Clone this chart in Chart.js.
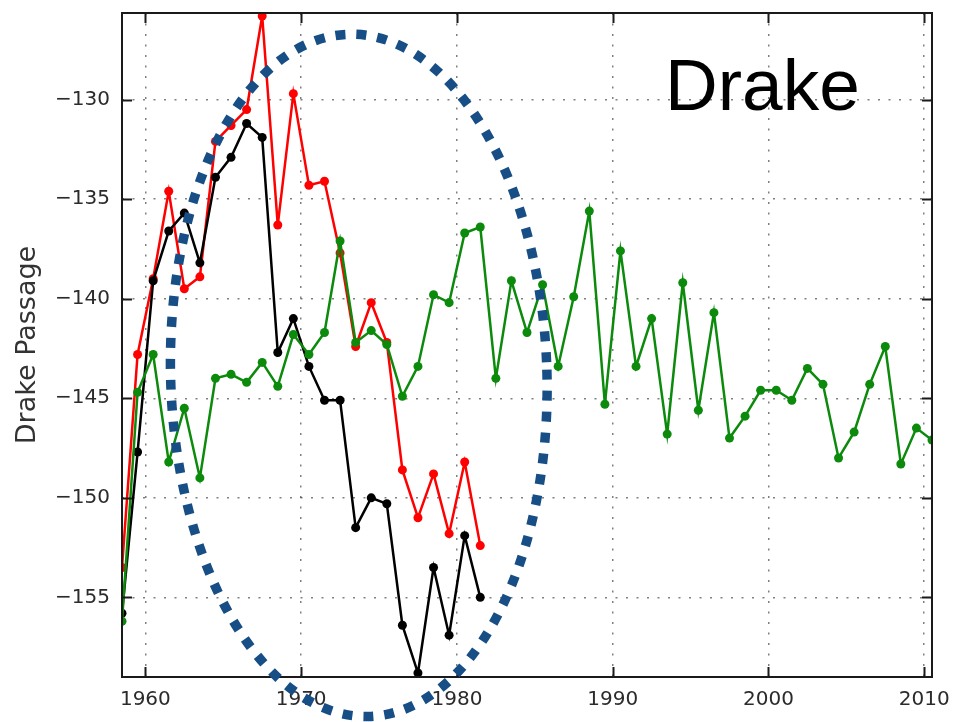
<!DOCTYPE html>
<html>
<head>
<meta charset="utf-8">
<script src="https://cdn.jsdelivr.net/npm/chart.js@4.4.1/dist/chart.umd.min.js"></script>
<style>
  html, body { margin: 0; padding: 0; background: #fff; }
  canvas { display: block; }
</style>
</head>
<body>
<canvas id="c" width="954" height="722"></canvas>
<script>
// Annual transport values (mid-year samples)
const years = [
  1958.5, 1959.5, 1960.5, 1961.5, 1962.5, 1963.5, 1964.5, 1965.5, 1966.5, 1967.5,
  1968.5, 1969.5, 1970.5, 1971.5, 1972.5, 1973.5, 1974.5, 1975.5, 1976.5, 1977.5,
  1978.5, 1979.5, 1980.5, 1981.5, 1982.5, 1983.5, 1984.5, 1985.5, 1986.5, 1987.5,
  1988.5, 1989.5, 1990.5, 1991.5, 1992.5, 1993.5, 1994.5, 1995.5, 1996.5, 1997.5,
  1998.5, 1999.5, 2000.5, 2001.5, 2002.5, 2003.5, 2004.5, 2005.5, 2006.5, 2007.5,
  2008.5, 2009.5, 2010.5
];

const redSeries = [
  -153.5, -142.8, -139.0, -134.6, -139.5, -138.9, -132.1, -131.3, -130.5, -125.8,
  -136.3, -129.7, -134.3, -134.1, -137.7, -142.4, -140.2, -142.2, -148.6, -151.0,
  -148.8, -151.8, -148.2, -152.4
];

const blackSeries = [
  -155.8, -147.7, -139.1, -136.6, -135.7, -138.2, -133.9, -132.9, -131.2, -131.9,
  -142.7, -141.0, -143.4, -145.1, -145.1, -151.5, -150.0, -150.3, -156.4, -158.8,
  -153.5, -156.9, -151.9, -155.0
];

const greenSeries = [
  -156.2, -144.7, -142.8, -148.2, -145.5, -149.0, -144.0, -143.8, -144.2, -143.2,
  -144.4, -141.8, -142.8, -141.7, -137.1, -142.2, -141.6, -142.3, -144.9, -143.4,
  -139.8, -140.2, -136.7, -136.4, -144.0, -139.1, -141.7, -139.3, -143.4, -139.9,
  -135.6, -145.3, -137.6, -143.4, -141.0, -146.8, -139.2, -145.6, -140.7, -147.0,
  -145.9, -144.6, -144.6, -145.1, -143.5, -144.3, -148.0, -146.7, -144.3, -142.4,
  -148.3, -146.5, -147.1
];

const xTicks = [1960, 1970, 1980, 1990, 2000, 2010];
const yTicks = [-155, -150, -145, -140, -135, -130];

const xRange = [1958.5, 2010.5];
const yRange = [-159.0, -125.65];

// Highlight ring around the early record, in data units
const ring = { year: 1973.7, value: -143.85, halfYears: 12.08, halfValue: 17.14, tilt: -0.03 };

const pairs = (vals) => vals.map((v, i) => ({ x: years[i], y: v }));

const lineStyle = (color) => ({
  borderColor: color,
  backgroundColor: color,
  pointBackgroundColor: color,
  pointBorderColor: color,
  borderWidth: 2.5,
  pointRadius: 4.5,
  pointBorderWidth: 0,
  pointHoverRadius: 4.5,
  tension: 0,
  fill: false
});

const TICK_LEN = 10;

// Box frame with inward tick marks on all four sides
const framePlugin = {
  id: 'frame',
  afterDatasetsDraw(chart) {
    const { ctx, chartArea: a, scales: { x, y } } = chart;
    ctx.save();
    ctx.strokeStyle = '#1a1a1a';
    ctx.lineWidth = 2;
    ctx.beginPath();
    x.ticks.forEach(t => {
      const px = Math.round(x.getPixelForValue(t.value)) + 0.5;
      ctx.moveTo(px, a.bottom); ctx.lineTo(px, a.bottom - TICK_LEN);
      ctx.moveTo(px, a.top); ctx.lineTo(px, a.top + TICK_LEN);
    });
    y.ticks.forEach(t => {
      const py = Math.round(y.getPixelForValue(t.value)) + 0.5;
      ctx.moveTo(a.left, py); ctx.lineTo(a.left + TICK_LEN, py);
      ctx.moveTo(a.right, py); ctx.lineTo(a.right - TICK_LEN, py);
    });
    ctx.stroke();
    ctx.strokeRect(a.left, a.top, a.right - a.left, a.bottom - a.top);
    ctx.restore();
  }
};

// Region name and dotted highlight ring
const notePlugin = {
  id: 'notes',
  afterDraw(chart) {
    const { ctx, chartArea: a, scales: { x, y } } = chart;
    ctx.save();
    ctx.fillStyle = '#000';
    ctx.font = '73px "Liberation Sans", Arial, sans-serif';
    ctx.textBaseline = 'alphabetic';
    ctx.textAlign = 'left';
    ctx.fillText('Drake', a.right - 267, a.top + 96.5);

    const cx = x.getPixelForValue(ring.year);
    const cy = y.getPixelForValue(ring.value);
    const rx = Math.abs(x.getPixelForValue(ring.year + ring.halfYears) - cx);
    const ry = Math.abs(y.getPixelForValue(ring.value + ring.halfValue) - cy);
    ctx.strokeStyle = '#174e86';
    ctx.lineWidth = 9.5;
    ctx.lineCap = 'butt';
    ctx.setLineDash([10, 11]);
    ctx.beginPath();
    ctx.ellipse(cx, cy, rx, ry, ring.tilt, 0, Math.PI * 2);
    ctx.stroke();
    ctx.restore();
  }
};

const tickFont = { family: '"DejaVu Sans", sans-serif', size: 20 };

new Chart(document.getElementById('c'), {
  type: 'line',
  data: {
    datasets: [
      Object.assign({ label: 'green', data: pairs(greenSeries) }, lineStyle('#0b8a0b')),
      Object.assign({ label: 'black', data: pairs(blackSeries) }, lineStyle('#000000')),
      Object.assign({ label: 'red', data: pairs(redSeries) }, lineStyle('#ff0000'))
    ]
  },
  options: {
    responsive: false,
    animation: false,
    devicePixelRatio: 1,
    layout: { padding: { left: 0, top: 13, right: 22, bottom: 0 } },
    plugins: { legend: { display: false }, tooltip: { enabled: false } },
    scales: {
      x: {
        type: 'linear',
        min: xRange[0],
        max: xRange[1],
        afterBuildTicks: (s) => { s.ticks = xTicks.map(v => ({ value: v })); },
        afterFit: (s) => { s.height = 45; s.paddingLeft = 0; s.paddingRight = 0; },
        ticks: {
          font: tickFont,
          color: '#2b2b2b',
          padding: 11,
          maxRotation: 0,
          autoSkip: false,
          callback: (v) => String(v)
        },
        grid: { color: 'rgba(0,0,0,0.5)', lineWidth: 1.5, drawTicks: false },
        border: { display: false, dash: [2, 8.5] }
      },
      y: {
        type: 'linear',
        min: yRange[0],
        max: yRange[1],
        afterBuildTicks: (s) => { s.ticks = yTicks.map(v => ({ value: v })); },
        afterFit: (s) => { s.width = 122; s.paddingTop = 0; s.paddingBottom = 0; },
        ticks: {
          font: tickFont,
          color: '#2b2b2b',
          padding: 12,
          callback: (v) => String(v).replace('-', '\u2212')
        },
        grid: { color: 'rgba(0,0,0,0.5)', lineWidth: 1.5, drawTicks: false },
        border: { display: false, dash: [2, 8.5] },
        title: {
          display: true,
          text: 'Drake Passage',
          color: '#333',
          font: { family: '"DejaVu Sans", sans-serif', size: 27 },
          padding: { top: 12, bottom: 0 }
        }
      }
    }
  },
  plugins: [framePlugin, notePlugin]
});
</script>
</body>
</html>
